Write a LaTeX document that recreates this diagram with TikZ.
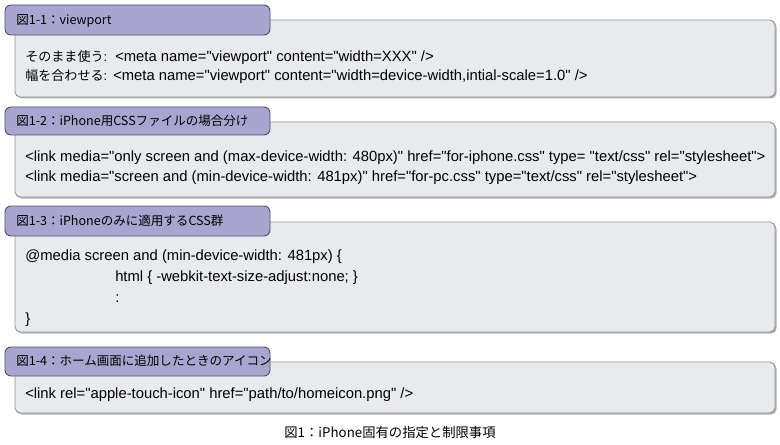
\documentclass[tikz,border=0pt]{standalone}
\usepackage{fontspec}
\setmainfont{Liberation Sans}[Ligatures=TeXOff]
\newfontfamily\jp{Noto Sans CJK JP}
\definecolor{tabfill}{RGB}{168,166,208}
\definecolor{tabline}{RGB}{80,80,100}
\definecolor{bodyfill}{RGB}{232,234,238}
\definecolor{bodyline}{RGB}{150,150,150}
\definecolor{shadowc}{RGB}{175,175,175}
\begin{document}
\begin{tikzpicture}[x=0.75pt,y=-0.75pt,
  tabbox/.style={draw=tabline,fill=tabfill,rounded corners=4.5pt,line width=0.7pt},
  bodybox/.style={draw=bodyline,fill=bodyfill,rounded corners=4pt,line width=0.7pt},
  shadowbox/.style={fill=shadowc,rounded corners=4pt},
  tabtext/.style={anchor=base west,inner sep=0pt,font=\jp\fontsize{9.4}{11}\selectfont},
  codetext/.style={anchor=base west,inner sep=0pt,font=\fontsize{11.1}{13}\selectfont},
  labeltext/.style={anchor=base west,inner sep=0pt,font=\jp\fontsize{9.8}{12}\selectfont},
  captext/.style={anchor=base,inner sep=0pt,font=\jp\fontsize{10}{12}\selectfont}]
\useasboundingbox (0,0) rectangle (780,445);
\fill[white] (0,0) rectangle (780,445);
% ---- box 1
\fill[shadowbox] (16.5,21.5) rectangle (776.5,98.5);
\draw[bodybox] (15,20) rectangle (775,97);
\draw[tabbox] (5,5) rectangle (270,35);
\node[tabtext] (t1) at (16,24.5) {図1-1：viewport};
\node[labeltext] (l1a) at (25,62) {そのまま使う\textrm{:}};
\node[codetext] (c1a) at (115,62) {<meta name="viewport" content="width=XXX" />};
\node[labeltext] (l1b) at (25,81) {幅を合わせる\textrm{:}};
\node[codetext] (c1b) at (113,81) {<meta name="viewport" content="width=device-width,intial-scale=1.0" />};
% ---- box 2
\fill[shadowbox] (16.5,123.5) rectangle (776.5,198.5);
\draw[bodybox] (15,122) rectangle (775,197);
\draw[tabbox] (5,107) rectangle (270,135);
\node[tabtext] (t2) at (16,125.5) {図1-2：iPhone用CSSファイルの場合分け};
\node[codetext] (c2a) at (25,162) {<link media="only screen and (max-device-width: 480px)" href="for-iphone.css" type= "text/css" rel="stylesheet">};
\node[codetext] (c2b) at (25,181) {<link media="screen and (min-device-width: 481px)" href="for-pc.css" type="text/css" rel="stylesheet">};
% ---- box 3
\fill[shadowbox] (16.5,223.5) rectangle (776.5,333.5);
\draw[bodybox] (15,222) rectangle (775,332);
\draw[tabbox] (5,206) rectangle (270,236);
\node[tabtext] (t3) at (16,225.5) {図1-3：iPhoneのみに適用するCSS群};
\node[codetext] (c3a) at (25,260) {@media screen and (min-device-width: 481px) \{};
\node[codetext] (c3b) at (115,281) {html \{ -webkit-text-size-adjust:none; \}};
\node[codetext] (c3c) at (115,302) {:};
\node[codetext] (c3d) at (25,323) {\}};
% ---- box 4
\fill[shadowbox] (16.5,363.5) rectangle (776.5,414.5);
\draw[bodybox] (15,362) rectangle (775,413);
\draw[tabbox] (5,347) rectangle (270,376);
\node[tabtext] (t4) at (16,365) {図1-4：ホーム画面に追加したときのアイコン};
\node[codetext] (c4a) at (25,398) {<link rel="apple-touch-icon" href="path/to/homeicon.png" />};
% ---- caption
\node[captext] (cap) at (390,437) {図1：iPhone固有の指定と制限事項};
\end{tikzpicture}
\end{document}
